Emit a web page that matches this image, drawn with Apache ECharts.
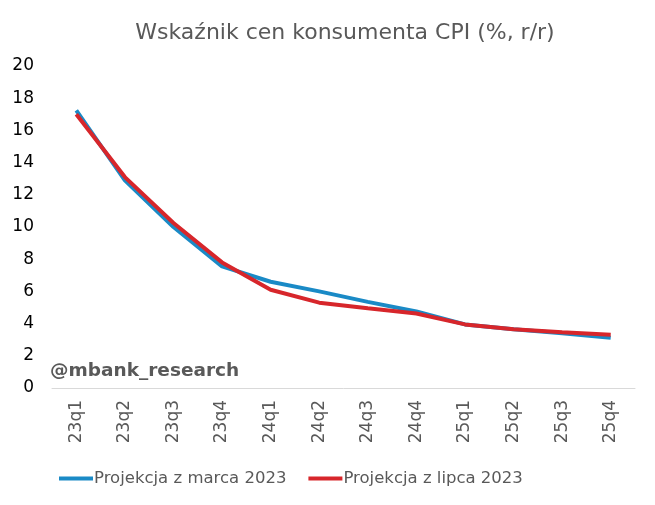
<!DOCTYPE html>
<html><head><meta charset="utf-8">
<script src="https://cdn.jsdelivr.net/npm/echarts@6/dist/echarts.min.js"></script>
<style>html,body{margin:0;padding:0;background:#fff}#c{width:655px;height:505px}</style>
</head><body><div id="c"></div>
<script>
var categories = ['23q1','23q2','23q3','23q4','24q1','24q2','24q3','24q4','25q1','25q2','25q3','25q4'];
var marca = [17.25, 12.9, 10.0, 7.55, 6.6, 6.0, 5.35, 4.75, 3.95, 3.65, 3.4, 3.12];
var lipca = [17.0, 13.1, 10.25, 7.8, 6.1, 5.3, 4.95, 4.63, 3.95, 3.65, 3.47, 3.3];
var yTicks = {min: 0, max: 20, interval: 2};
var chart = echarts.init(document.getElementById('c'));
var font = 'Verdana, "DejaVu Sans", sans-serif';
chart.setOption({
  animation: false,
  title: {text: 'Wskaźnik cen konsumenta CPI (%, r/r)', left: 340, top: 17, textAlign: 'center',
    textStyle: {fontFamily: font, fontSize: 22, fontWeight: 'normal', color: '#595959'}},
  grid: {left: 52, right: 20, top: 66, bottom: 117},
  legend: {top: 465, left: 54, itemWidth: 34, itemHeight: 4, itemGap: 22,
    icon: 'rect',
    textStyle: {fontFamily: font, fontSize: 16.5, color: '#595959', padding: [0,0,0,-4]},
    data: ['Projekcja z marca 2023', 'Projekcja z lipca 2023']},
  graphic: [{type: 'text', left: 50, top: 362, style: {text: '@mbank_research', fontFamily: '"DejaVu Sans", Verdana, sans-serif', fontSize: 18.5, fontWeight: 'bold', fill: '#595959'}}],
  xAxis: {type: 'category', data: categories, boundaryGap: true,
    axisLine: {lineStyle: {color: '#d9d9d9', width: 1}}, axisTick: {show: false},
    axisLabel: {rotate: 90, margin: 12, fontFamily: font, fontSize: 17, color: '#595959'}},
  yAxis: {type: 'value', min: yTicks.min, max: yTicks.max, interval: yTicks.interval,
    splitLine: {show: false}, axisLine: {show: false}, axisTick: {show: false},
    axisLabel: {fontFamily: font, fontSize: 17, color: '#000', margin: 18}},
  series: [
    {name: 'Projekcja z marca 2023', type: 'line', data: marca, symbol: 'none',
      lineStyle: {color: '#1a8ac6', width: 4}, itemStyle: {color: '#1a8ac6'}},
    {name: 'Projekcja z lipca 2023', type: 'line', data: lipca, symbol: 'none',
      lineStyle: {color: '#d7262b', width: 4}, itemStyle: {color: '#d7262b'}}
  ]
});
</script></body></html>
